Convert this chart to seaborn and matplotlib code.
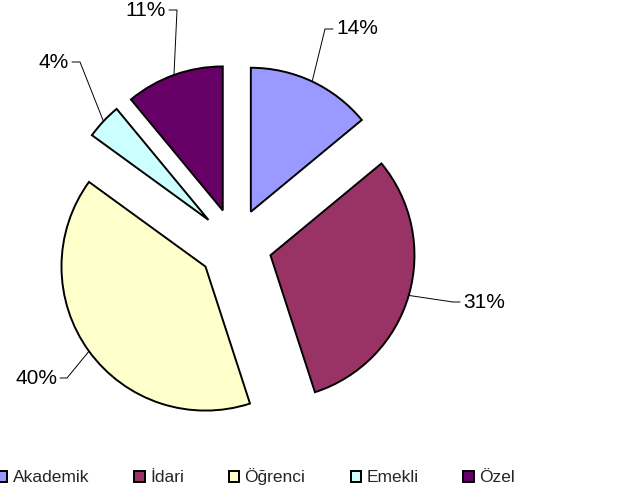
import matplotlib
matplotlib.use('Agg')
import matplotlib.pyplot as plt
import seaborn as sns
import numpy as np

sns.set_theme(style='white')
plt.rcParams['font.family'] = ['Liberation Sans', 'DejaVu Sans']

categories = ['Akademik', 'İdari', 'Öğrenci', 'Emekli', 'Özel']
shares = [14, 31, 40, 4, 11]
colors = ['#9999FF', '#993366', '#FFFFCC', '#CCFFFF', '#660066']

# pie geometry in pixels (radius and center of the unexploded pie)
SCALE = 144.0
CX, CY = 235.2, 245.0
W, H = 641, 497


def px(x, y):
    return (x - CX) / SCALE, (CY - y) / SCALE


# label layout: elbow, line end, text anchor (pixels), alignment
label_layout = [
    ((325, 29), (333, 29), (336, 29), 'left'),
    ((453, 302), (460, 302), (463, 302), 'left'),
    ((67, 378), (60, 378), (57, 378), 'right'),
    ((80, 62), (72, 62), (69, 62), 'right'),
    ((177, 10), (169, 10), (166, 10), 'right'),
]


def main():
    fig = plt.figure(figsize=(W / 100, H / 100), dpi=100)
    ax = fig.add_axes([0, 0, 1, 1])

    wedges, _ = ax.pie(shares, colors=colors, explode=[0.255] * len(shares),
                       startangle=90, counterclock=False,
                       wedgeprops=dict(edgecolor='black', linewidth=1.4))

    for w, share, (elbow, end, txt, ha) in zip(wedges, shares, label_layout):
        mid = np.deg2rad((w.theta1 + w.theta2) / 2)
        x0 = w.center[0] + w.r * np.cos(mid)
        y0 = w.center[1] + w.r * np.sin(mid)
        ex, ey = px(*elbow)
        lx, ly = px(*end)
        ax.plot([x0, ex, lx], [y0, ey, ly], color='black', lw=0.7)
        tx, ty = px(*txt)
        ax.text(tx, ty, f'{share}%', ha=ha, va='center', fontsize=15, color='black')

    ax.set_xlim(-CX / SCALE, (W - CX) / SCALE)
    ax.set_ylim((CY - H) / SCALE, CY / SCALE)
    ax.set_aspect('auto')
    ax.axis('off')

    fig.legend(wedges, categories, loc='center left',
               bbox_to_anchor=(-3 / W, 1 - 477 / H), ncol=5, frameon=False,
               prop={'size': 12.5},
               handlelength=0.6, handleheight=0.65, handletextpad=0.3,
               columnspacing=2.6, borderpad=0, borderaxespad=0)

    fig.savefig('out.png', dpi=100)


if __name__ == '__main__':
    main()
